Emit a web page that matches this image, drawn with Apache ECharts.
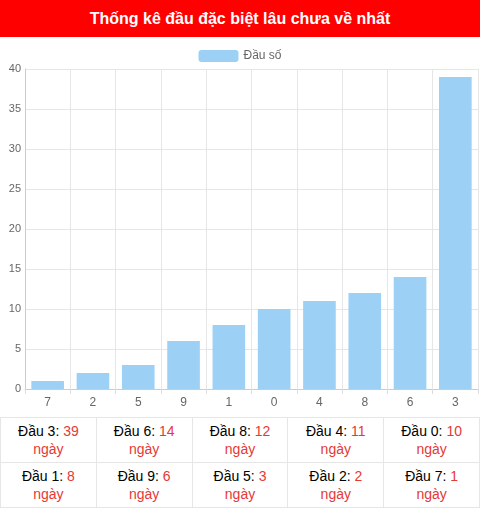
<!DOCTYPE html>
<html><head><meta charset="utf-8">
<script src="https://cdn.jsdelivr.net/npm/echarts@6/dist/echarts.min.js"></script>
<style>
body{margin:0;width:480px;height:510px;font-family:Arial,"Liberation Sans",sans-serif;overflow:hidden;background:#fff}
#title{height:37px;background:#ff0000;color:#fff;font-weight:bold;font-size:16px;text-align:center;line-height:37px}
#chart{width:480px;height:380px}
table{width:100%;border-collapse:collapse;table-layout:fixed}
td{border:1px solid #e6e6e6;text-align:center;font-size:14px;height:44px;padding:0;line-height:18px;color:#000}
td span,.d{color:#e53935}
</style></head><body>
<div id="title">Thống kê đầu đặc biệt lâu chưa về nhất</div>
<div id="chart"></div>
<table id="tb"></table>
<script>
const categories=['7','2','5','9','1','0','4','8','6','3'];
const values=[1,2,3,6,8,10,11,12,14,39];
const yTicks={min:0,max:40,interval:5};
const c=echarts.init(document.getElementById('chart'));
c.setOption({
 animation:false,
 legend:{top:8,itemWidth:40,itemHeight:12,textStyle:{color:'#666',fontSize:12},data:['Đầu số']},
 grid:{left:25,right:2,top:32,bottom:28},
 xAxis:{type:'category',data:categories,axisLine:{lineStyle:{color:'#ccc'}},axisTick:{show:true,lineStyle:{color:'#ddd'}},
  axisLabel:{color:'#666',fontSize:12},splitLine:{show:true,lineStyle:{color:'#e6e6e6'}}},
 yAxis:{type:'value',min:yTicks.min,max:yTicks.max,interval:yTicks.interval,axisLabel:{color:'#666',fontSize:11,margin:4},
  axisLine:{show:true,lineStyle:{color:'#ccc'}},splitLine:{lineStyle:{color:'#e6e6e6'}}},
 series:[{name:'Đầu số',type:'bar',data:values,barWidth:'72%',itemStyle:{color:'#9dd0f5'}}]
});
const order=[...categories.keys()].sort((a,b)=>values[b]-values[a]);
let html='';
for(let r=0;r<2;r++){html+='<tr>';for(let k=0;k<5;k++){const i=order[r*5+k];
 html+='<td>Đầu '+categories[i]+': <span>'+values[i]+'</span><br><span class="d">ngày</span></td>';}html+='</tr>';}
document.getElementById('tb').innerHTML=html;
</script></body></html>
